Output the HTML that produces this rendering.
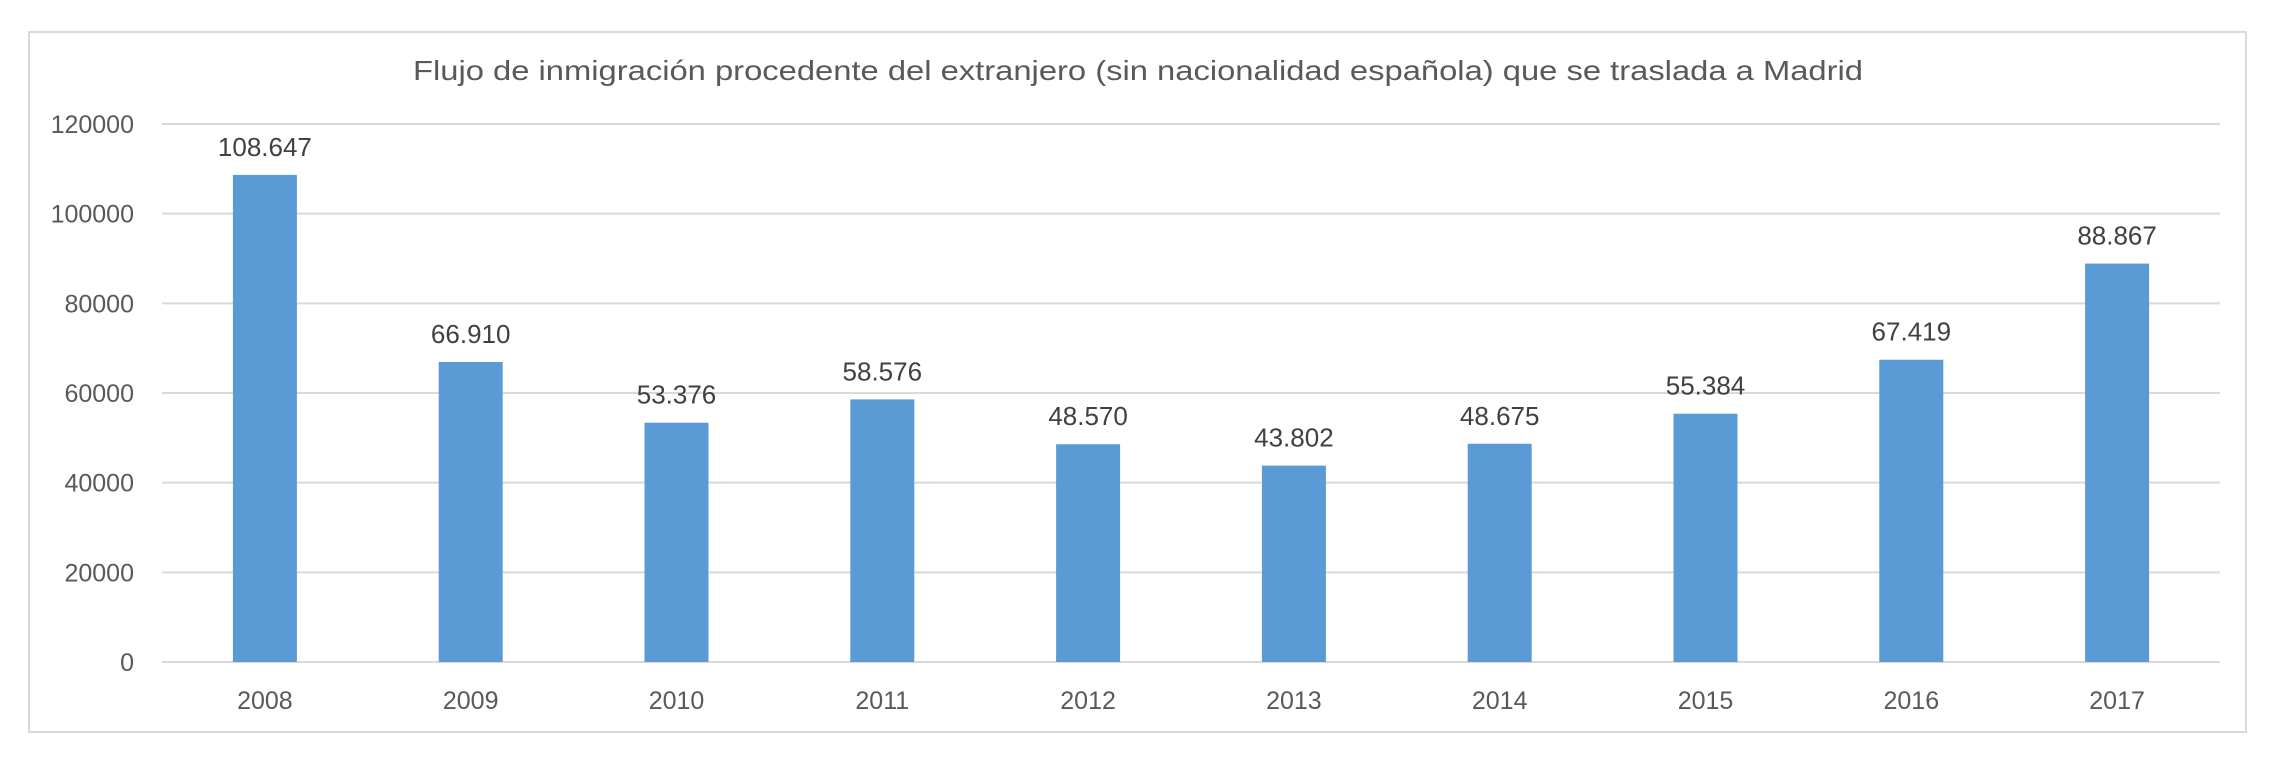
<!DOCTYPE html>
<html><head><meta charset="utf-8"><style>
html,body{margin:0;padding:0;background:#fff;}
svg{display:block;font-family:"Liberation Sans",sans-serif;}
</style></head><body>
<svg id="chart" width="2284" height="761" viewBox="0 0 2284 761" xmlns="http://www.w3.org/2000/svg">
<rect x="29" y="32" width="2217" height="700" fill="#fff" stroke="#d9d9d9" stroke-width="2"/>
<text x="1138" y="80" text-anchor="middle" font-size="28" fill="#595959" textLength="1450" lengthAdjust="spacingAndGlyphs">Flujo de inmigración procedente del extranjero (sin nacionalidad española) que se traslada a Madrid</text>
<g id="grid"></g><g id="bars"></g><g id="labels"></g>
</svg>
<script>
const categories = ["2008","2009","2010","2011","2012","2013","2014","2015","2016","2017"];
const values = [108647,66910,53376,58576,48570,43802,48675,55384,67419,88867];
const valueLabels = ["108.647","66.910","53.376","58.576","48.570","43.802","48.675","55.384","67.419","88.867"];
const yTicks = [0,20000,40000,60000,80000,100000,120000];
const NS="http://www.w3.org/2000/svg";
const x0=162,x1=2220,yTop=124,yBase=662,yMax=120000,barW=64;
const band=(x1-x0)/categories.length;
function xc(i){return x0+band*(i+0.5);}
function ys(v){return yBase-(v/yMax)*(yBase-yTop);}
function mk(tag,attrs,parent){const e=document.createElementNS(NS,tag);for(const k in attrs)e.setAttribute(k,attrs[k]);parent.appendChild(e);return e;}
const grid=document.getElementById('grid'),bars=document.getElementById('bars'),labels=document.getElementById('labels');
yTicks.forEach(t=>{
  const l=mk('line',{x1:x0,x2:x1,y1:ys(t),y2:ys(t),stroke:'#d9d9d9','stroke-width':2},grid);
  
  
  const tx=mk('text',{x:134,y:ys(t)+9,'text-anchor':'end','font-size':25,fill:'#595959'},grid);
  tx.textContent=t;
  
  
});
categories.forEach((c,i)=>{
  const r=mk('rect',{x:xc(i)-barW/2,y:ys(values[i]),width:barW,height:yBase-ys(values[i]),fill:'#5b9bd5'},bars);
  
  
  const v=mk('text',{x:xc(i),y:ys(values[i])-19,'text-anchor':'middle','font-size':26,fill:'#404040'},labels);
  v.textContent=valueLabels[i];
  
  
  const xl=mk('text',{x:xc(i),y:709,'text-anchor':'middle','font-size':25,fill:'#595959'},labels);
  xl.textContent=c;
  
  
});
</script>
</body></html>
